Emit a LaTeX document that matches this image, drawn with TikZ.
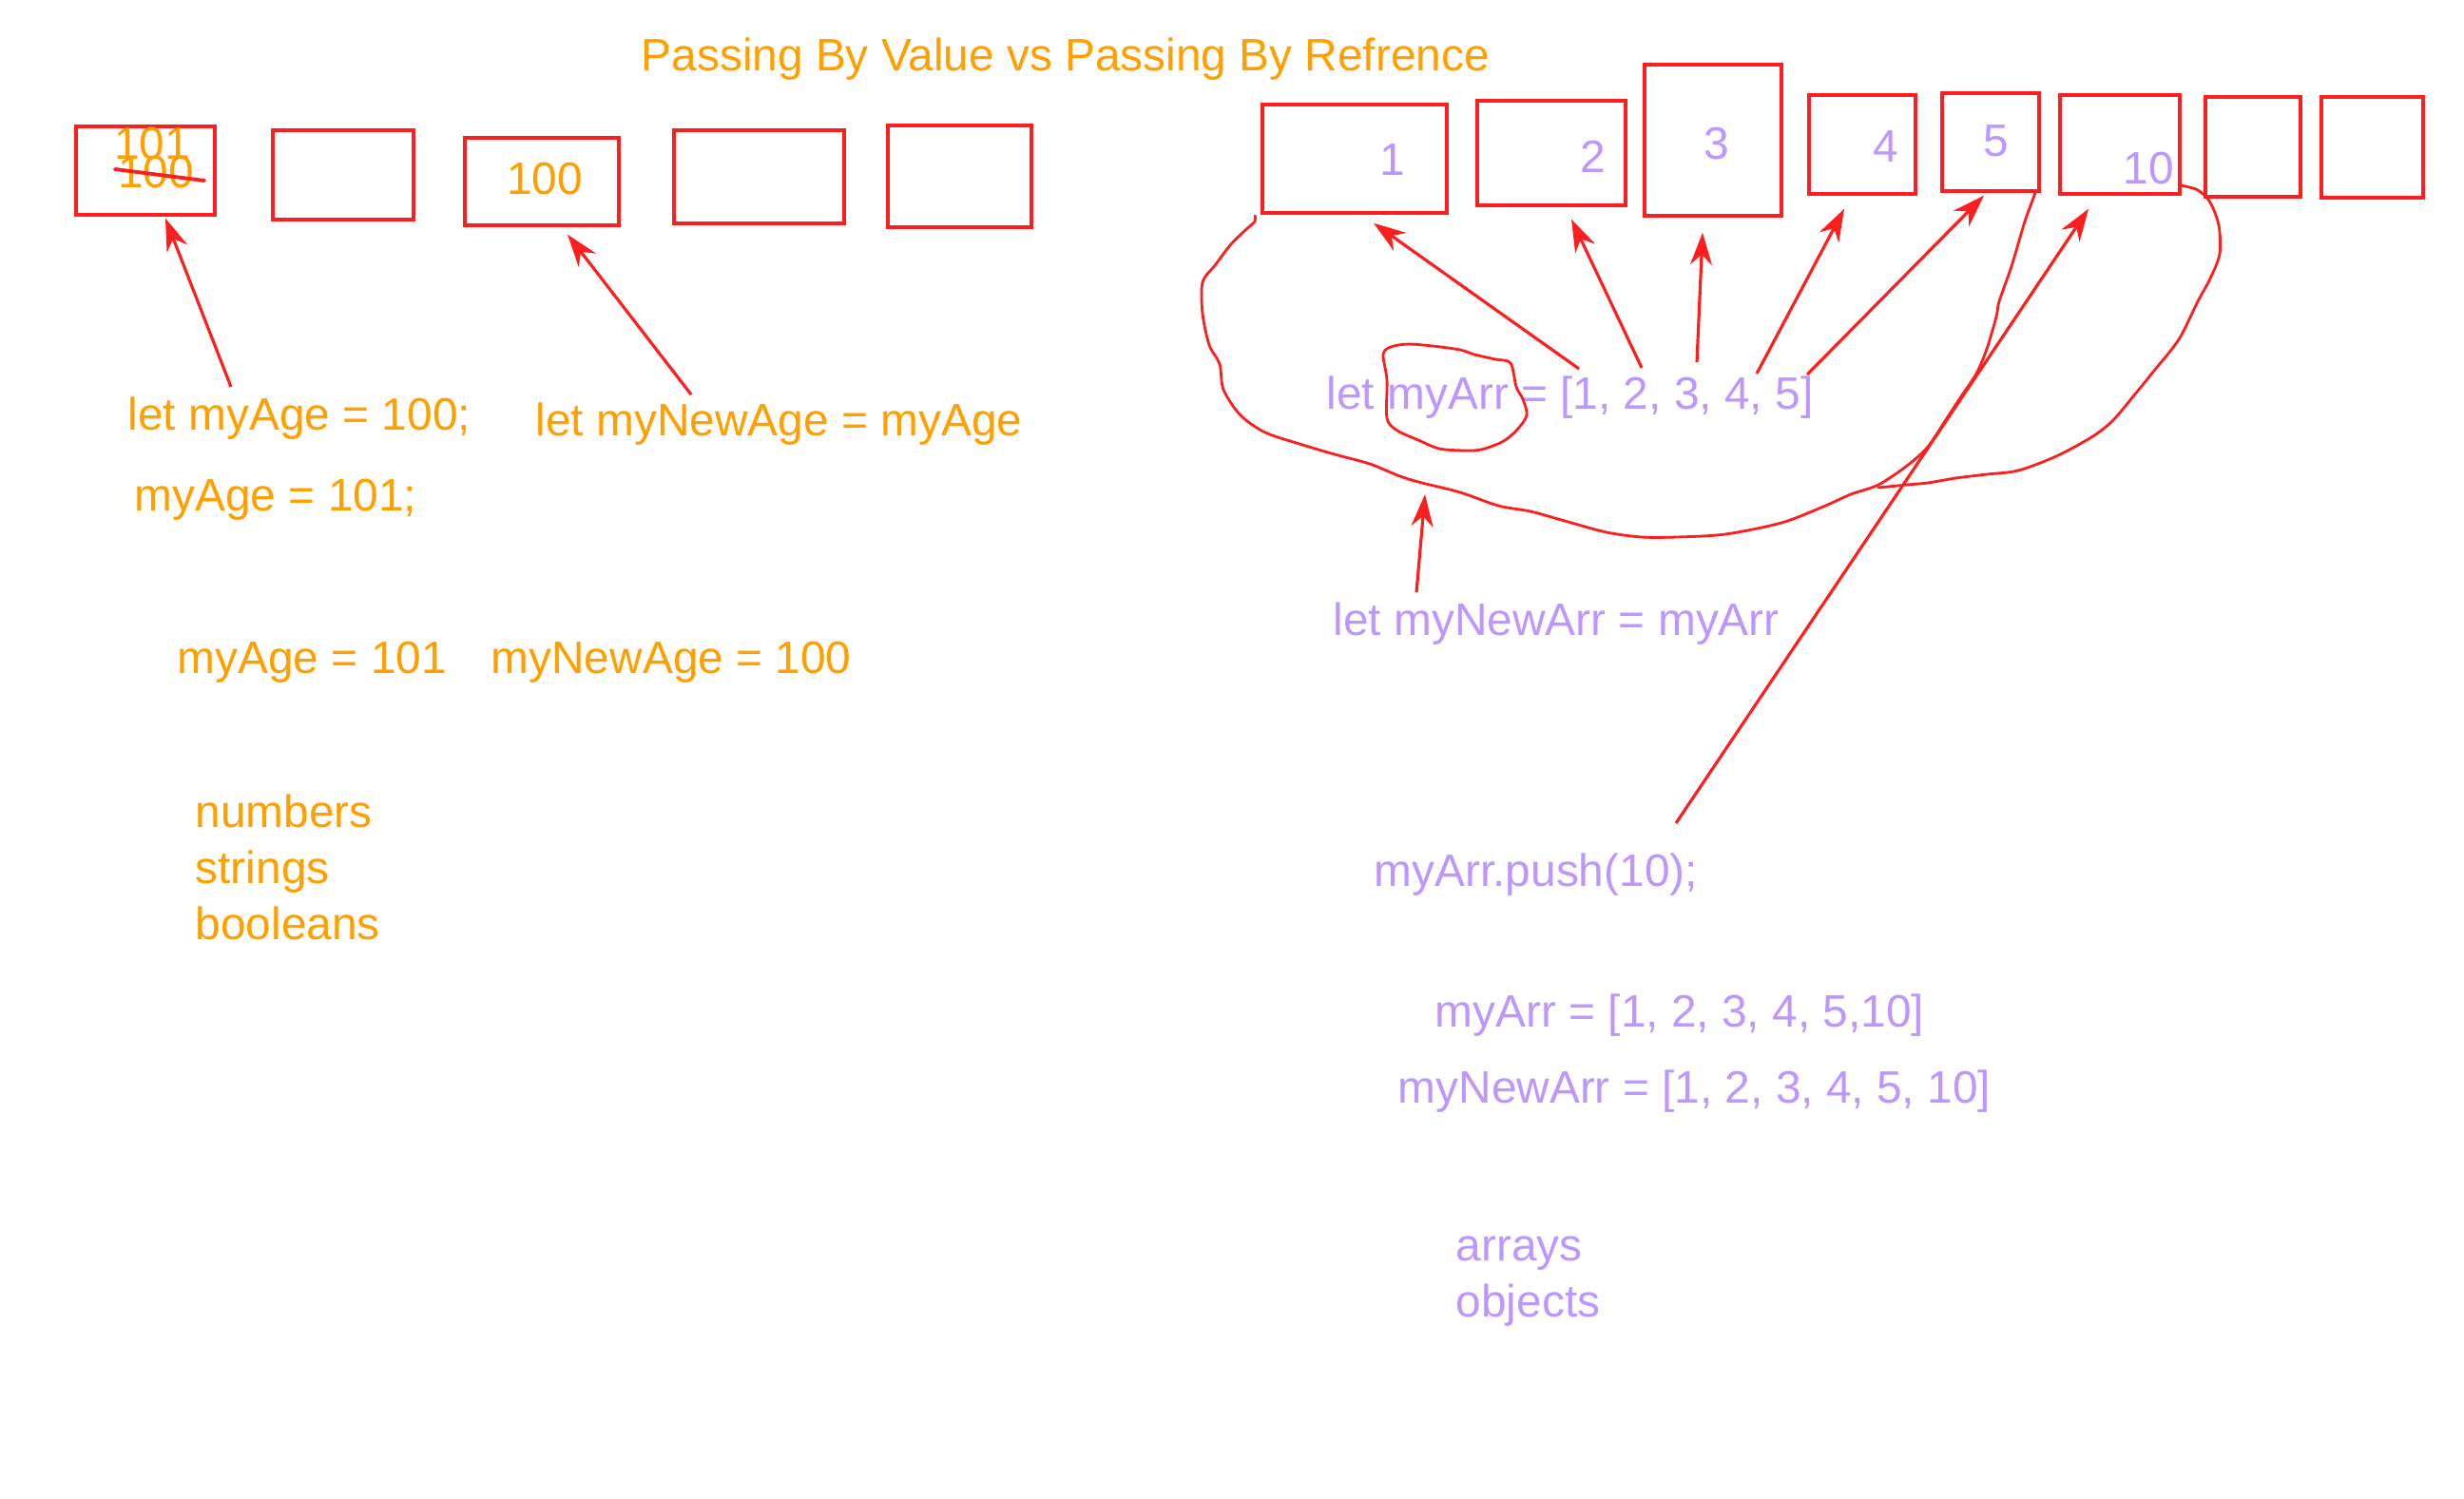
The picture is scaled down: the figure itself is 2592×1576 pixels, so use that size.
\documentclass[tikz,border=0pt]{standalone}
\usepackage{fontspec}
\setmainfont{Liberation Sans}
\usepackage{tikz}
\usetikzlibrary{arrows.meta}
\definecolor{penred}{RGB}{255,30,30}
\definecolor{valorange}{RGB}{255,160,0}
\definecolor{refpurple}{RGB}{190,150,255}

\begin{document}
\begin{tikzpicture}[
  x=0.01cm, y=-0.01cm,
  cell/.style 2 args={draw=penred, line width=0.95pt, minimum width=#1,
                      minimum height=#2, inner sep=0pt},
  valtxt/.style={text=valorange, font=\fontsize{13.6}{16}\selectfont,
                 inner sep=0pt, anchor=base west},
  reftxt/.style={text=refpurple, font=\fontsize{13.6}{16}\selectfont,
                 inner sep=0pt, anchor=base west},
  arr/.style={draw=penred, line width=0.9pt,
              -{Stealth[length=3.4mm, width=2.3mm, inset=1.1mm]}},
  hand/.style={draw=penred, line width=0.8pt, line join=round, line cap=round}
]
\useasboundingbox (0,0) rectangle (2592,1576);

\node[valtxt] (title) at (674,75) {Passing By Value vs Passing By Refrence};

\node[cell={1.46cm}{0.93cm}] (boxA) at (153,179.5) {};
\node[cell={1.48cm}{0.94cm}] (boxB) at (361,184) {};
\node[cell={1.62cm}{0.92cm}] (boxC) at (570,191) {};
\node[cell={1.79cm}{0.98cm}] (boxD) at (798.5,186) {};
\node[cell={1.51cm}{1.07cm}] (boxE) at (1009.5,185.5) {};

\node[valtxt, anchor=base] (oldAge) at (160,167) {101};
\node[valtxt, anchor=base] (firstAge) at (164,198) {100};
\draw[draw=penred, line width=1.1pt, line cap=round] (121,178) -- (215,190);
\node[valtxt, anchor=base] (copyAge) at (573,205) {100};

\node[valtxt] (letAge) at (134,452) {let myAge = 100;};
\node[valtxt] (letNewAge) at (563,458) {let myNewAge = myAge};
\node[valtxt] (setAge) at (141,537) {myAge = 101;};
\node[valtxt] (resAge) at (186,708) {myAge = 101};
\node[valtxt] (resNewAge) at (516,708) {myNewAge = 100};
\node[valtxt] (numbers) at (205,870) {numbers};
\node[valtxt] (strings) at (205,929) {strings};
\node[valtxt] (booleans) at (205,988) {booleans};

\coordinate (tailAge) at (243,407);
\coordinate (tailNewAge) at (727,415);
\draw[arr] (tailAge) -- ([shift={(21,2)}]boxA.south);
\draw[arr] (tailNewAge) -- ([shift={(27,8)}]boxC.south);

\node[cell={1.94cm}{1.14cm}] (cell1) at (1425,167) {};
\node[cell={1.56cm}{1.10cm}] (cell2) at (1632,161) {};
\node[cell={1.44cm}{1.59cm}] (cell3) at (1802,147.5) {};
\node[cell={1.12cm}{1.04cm}] (cell4) at (1959,152) {};
\node[cell={1.02cm}{1.03cm}] (cell5) at (2094,149.5) {};
\node[cell={1.26cm}{1.04cm}] (cell10) at (2230,152) {};
\node[cell={1.00cm}{1.05cm}] (cell7) at (2370,154.5) {};
\node[cell={1.07cm}{1.06cm}] (cell8) at (2495.5,155) {};

\node[reftxt, anchor=base] (num1) at (1465,185) {1};
\node[reftxt, anchor=base] (num2) at (1676,182) {2};
\node[reftxt, anchor=base] (num3) at (1806,167) {3};
\node[reftxt, anchor=base] (num4) at (1984,170) {4};
\node[reftxt, anchor=base] (num5) at (2100,165) {5};
\node[reftxt, anchor=base] (num10) at (2260,193) {10};

\node[reftxt] (letArr) at (1395,430) {let myArr = [1, 2, 3, 4, 5]};
\node[reftxt] (letNewArr) at (1402,668) {let myNewArr = myArr};
\node[reftxt] (pushArr) at (1445,932) {myArr.push(10);};
\node[reftxt] (resArr) at (1509,1080) {myArr = [1, 2, 3, 4, 5,10]};
\node[reftxt] (resNewArr) at (1470,1160) {myNewArr = [1, 2, 3, 4, 5, 10]};
\node[reftxt] (arrays) at (1531,1326) {arrays};
\node[reftxt] (objects) at (1531,1385) {objects};

\coordinate (tail1) at (1661,388);
\coordinate (tail2) at (1727,387);
\coordinate (tail3) at (1785,381);
\coordinate (tail4) at (1848,393);
\coordinate (tail5) at (1901,394);
\coordinate (tailPush) at (1763,866);
\coordinate (tailNewArr) at (1490,623);
\coordinate (heap) at (1499,520);
\draw[arr] (tail1) -- ([shift={(20,9)}]cell1.south);
\draw[arr] (tail2) -- ([shift={(21,13)}]cell2.south);
\draw[arr] (tail3) -- ([shift={(-11,16)}]cell3.south);
\draw[arr] (tail4) -- ([shift={(-19,14)}]cell4.south);
\draw[arr] (tail5) -- ([shift={(-7,3)}]cell5.south);
\draw[arr] (tailPush) -- ([shift={(-33,14)}]cell10.south);
\draw[arr] (tailNewArr) -- (heap);

\draw[hand] plot[smooth, tension=0.5] coordinates {
  (2141,203) (2130,233) (2116,280) (2103,317) (2100,333) (2090,367)
  (2079,393) (2063,417) (2046,443) (2028,470) (2006,490) (1976,510)
  (1947,520) (1918,533) (1874,550) (1815,562) (1764,565) (1727,565)
  (1690,560) (1646,548) (1610,538) (1576,532) (1536,518) (1492,507)
  (1470,500) (1441,488) (1404,478) (1367,467) (1331,455) (1305,437)
  (1287,410) (1283,383) (1272,363) (1265,330) (1265,297) (1279,278)
  (1294,258) (1309,243) (1320,233) (1320,227)};
\draw[hand] plot[smooth, tension=0.5] coordinates {
  (2294,195) (2312,200) (2325,213) (2334,237) (2335,267) (2325,293)
  (2312,317) (2292,357) (2266,390) (2244,417) (2222,443) (2200,460)
  (2163,480) (2123,495) (2090,499) (2057,503) (2028,508) (2006,510)
  (1976,513)};
\draw[hand] plot[smooth cycle, tension=0.5] coordinates {
  (1481,362) (1463,365) (1455,373) (1459,400) (1459,440) (1470,453)
  (1492,463) (1514,472) (1540,474) (1558,473) (1580,465) (1595,453)
  (1606,437) (1602,420) (1595,407) (1589,382) (1573,378) (1551,373)
  (1536,368) (1507,364)};
\end{tikzpicture}
\end{document}
